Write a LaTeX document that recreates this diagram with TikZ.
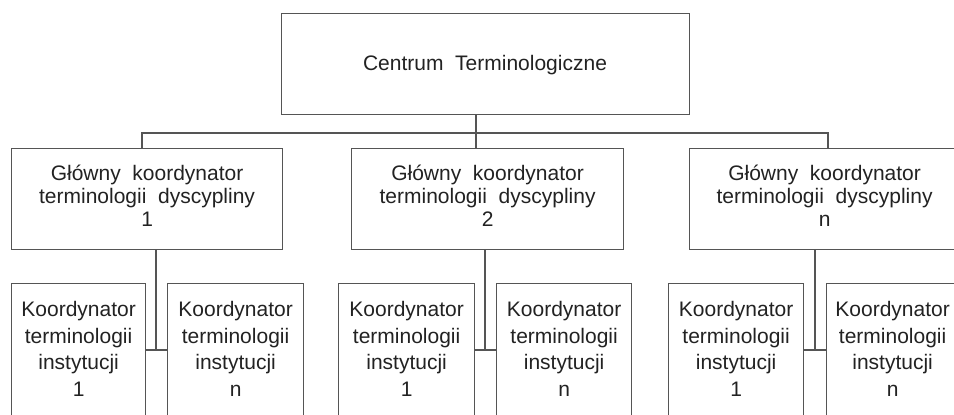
\documentclass[tikz,border=0pt]{standalone}
\usepackage{fontspec}
\setmainfont{Liberation Sans}
\definecolor{linegray}{HTML}{555555}
\definecolor{inkgray}{HTML}{222222}
\begin{document}
\begin{tikzpicture}[x=1pt,y=-1pt,
  frame/.style={draw=linegray, line width=1.2pt, inner sep=0pt, anchor=north west},
  wire/.style={draw=linegray, line width=1.2pt},
  txt/.style={inner sep=0pt, align=center, text=inkgray, anchor=base},
  midtxt/.style={txt, font=\fontsize{21}{23}\selectfont},
  lowtxt/.style={txt, font=\fontsize{21}{26.5}\selectfont}]
\useasboundingbox (0,0) rectangle (954,415);
\clip (0,0) rectangle (954,415);

% top level
\node[frame, minimum width=408pt, minimum height=101pt] (ct) at (281,13) {};
\node[txt, font=\fontsize{21}{23}\selectfont] (ctt) at (485,70) {Centrum\ \ Terminologiczne};

% discipline coordinators (text anchored on the baseline of its last line)
\node[frame, minimum width=271pt, minimum height=101pt] (dk1) at (11,148) {};
\node[frame, minimum width=272pt, minimum height=101pt] (dk2) at (351,148) {};
\node[frame, minimum width=270pt, minimum height=101pt] (dk3) at (689,148) {};
\foreach \i/\n in {1/1,2/2,3/n}
  \node[midtxt] (dk\i t) at ([yshift=-78pt]dk\i.north)
    {Główny\ \ koordynator\\terminologii\ \ dyscypliny\\\n};

% institution coordinators (boxes run past the lower edge)
\node[frame, minimum width=134pt, minimum height=160pt] (k11) at (11,283) {};
\node[frame, minimum width=136pt, minimum height=160pt] (k1n) at (167,283) {};
\node[frame, minimum width=136pt, minimum height=160pt] (k21) at (338,283) {};
\node[frame, minimum width=135pt, minimum height=160pt] (k2n) at (496,283) {};
\node[frame, minimum width=135pt, minimum height=160pt] (k31) at (668,283) {};
\node[frame, minimum width=132pt, minimum height=160pt] (k3n) at (826,283) {};
\foreach \b/\n in {k11/1,k1n/n,k21/1,k2n/n,k31/1,k3n/n}
  \node[lowtxt] (\b t) at ([yshift=-113pt]\b.north)
    {Koordynator\\terminologii\\instytucji\\\n};

% bus below the top box
\coordinate (bus) at (476,133);
\draw[wire] (ct.south -| bus) -- (dk2.north -| bus);
\draw[wire] (dk1.north -| 142,0) |- (bus) -| (dk3.north -| 828,0);

% junctions between institution boxes
\coordinate (j1) at (156,350);
\coordinate (j2) at (485,350);
\coordinate (j3) at (815,350);
\draw[wire] (dk1.south -| j1) -- (j1);
\draw[wire] (k11.east |- j1) -- (k1n.west |- j1);
\draw[wire] (dk2.south -| j2) -- (j2);
\draw[wire] (k21.east |- j2) -- (k2n.west |- j2);
\draw[wire] (dk3.south -| j3) -- (j3);
\draw[wire] (k31.east |- j3) -- (k3n.west |- j3);
\end{tikzpicture}
\end{document}
